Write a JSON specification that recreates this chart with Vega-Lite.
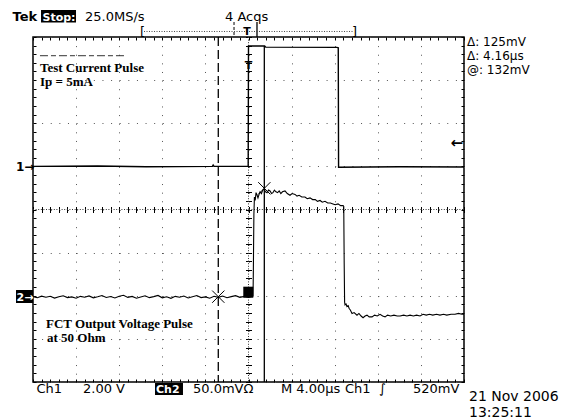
{
  "$schema": "https://vega.github.io/schema/vega-lite/v6.json",
  "width": 431,
  "height": 345,
  "autosize": {"type": "none"},
  "padding": {"left": 33, "top": 37, "right": 97, "bottom": 36},
  "background": "white",
  "config": {"view": {"stroke": "#000", "strokeWidth": 1.5}, "text": {"font": "DejaVu Sans"}},
  "datasets": {
    "one": [{"gx": 0, "gy": 0}],
    "text13": [
      {"gx": -3.794, "gy": 4.371, "label": "25.0MS/s"},
      {"gx": -0.545, "gy": 4.371, "label": "4 Acqs"},
      {"gx": -2.517, "gy": 4.023, "label": "["},
      {"gx": 2.401, "gy": 4.023, "label": "]"},
      {"gx": -4.919, "gy": -4.255, "label": "Ch1"},
      {"gx": -3.84, "gy": -4.255, "label": "2.00 V"},
      {"gx": -1.288, "gy": -4.255, "label": "50.0mVΩ"},
      {"gx": 0.754, "gy": -4.255, "label": "M 4.00µs"},
      {"gx": 2.239, "gy": -4.255, "label": "Ch1"},
      {"gx": 3.028, "gy": -4.255, "label": "∫"},
      {"gx": 3.817, "gy": -4.255, "label": "520mV"}
    ],
    "tek": [{"gx": -5.476, "gy": 4.371, "label": "Tek"}],
    "boxes": [
      {"gx": -4.814, "gx2": -4.002, "gy": 4.626, "gy2": 4.336},
      {"gx": -2.169, "gx2": -1.52, "gy": -4.023, "gy2": -4.301},
      {"gx": -5.394, "gx2": -4.999, "gy": -1.867, "gy2": -2.168},
      {"gx": -0.121, "gx2": 0.111, "gy": -1.79, "gy2": -2.046}
    ],
    "white": [
      {"gx": -4.78, "gy": 4.371, "label": "Stop:"},
      {"gx": -2.146, "gy": -4.255, "label": "Ch2"},
      {"gx": -5.383, "gy": -2.122, "label": "2→"}
    ],
    "text14": [
      {"gx": 5.116, "gy": -4.441, "label": "21 Nov 2006"},
      {"gx": 5.116, "gy": -4.8, "label": "13:25:11"}
    ],
    "readout": [
      {"gx": 5.07, "gy": 3.791, "label": "Δ: 125mV"},
      {"gx": 5.07, "gy": 3.467, "label": "Δ: 4.16µs"},
      {"gx": 5.07, "gy": 3.142, "label": "@: 132mV"}
    ],
    "serif": [
      {"gx": -4.838, "gy": 3.188, "label": "Test Current Pulse"},
      {"gx": -4.838, "gy": 2.864, "label": "Ip = 5mA"},
      {"gx": -4.698, "gy": -2.748, "label": "FCT Output Voltage Pulse"},
      {"gx": -4.675, "gy": -3.072, "label": "at 50 Ohm"}
    ],
    "marks12": [
      {"gx": -5.395, "gy": 0.904, "label": "1→"}
    ],
    "trigarrow": [
      {"gx": 4.98, "gy": 1.542, "label": "←"}
    ],
    "tmarks": [
      {"gx": -0.035, "gy": 4.046, "label": "T"},
      {"gx": 0, "gy": 3.258, "label": "T"}
    ],
    "solid": [
      {"gx": 0.367, "gy": 3.79, "gx2": 0.367, "gy2": -4},
      {"gx": 0.197, "gy": 4.348, "gx2": 0.197, "gy2": 4.0}
    ],
    "dashcursor": [{"gx": -0.701, "gy": 4, "gx2": -0.701, "gy2": -4}],
    "dashsmall": [{"gx": -0.336, "gy": 4.348, "gx2": -0.336, "gy2": 4.0}],
    "dotted": [{"gx": -2.424, "gy": 4.128, "gx2": 2.425, "gy2": 4.128}],
    "center": [
      {"gx": 0, "gy": 4, "gx2": 0, "gy2": -4},
      {"gx": -5, "gy": 0, "gx2": 5, "gy2": 0}
    ],
    "underline": [{"gx": -4.838, "gy": 3.566, "gx2": -2.865, "gy2": 3.566}],
    "xmarks": [{"gx": -0.701, "gy": -2.022}, {"gx": 0.367, "gy": 0.492}],
    "ch1": [
      {"t": -20, "v": 0.0},
      {"t": -14, "v": 0.02},
      {"t": -9.5, "v": -0.02},
      {"t": -3.35, "v": 0.0},
      {"t": -3.28, "v": 0.06},
      {"t": -3.2, "v": 0.0},
      {"t": -0.03, "v": 0.0},
      {"t": 0.0, "v": 5.58},
      {"t": 1.5, "v": 5.58},
      {"t": 1.6, "v": 5.53},
      {"t": 8.2, "v": 5.52},
      {"t": 8.33, "v": 5.5},
      {"t": 8.36, "v": -0.04},
      {"t": 14, "v": -0.02},
      {"t": 20, "v": -0.03}
    ],
    "ch2": [
      {"t": -20.0, "mv": 0.5}, {"t": -19.6, "mv": -0.8}, {"t": -19.2, "mv": 1.0}, {"t": -18.8, "mv": -0.3},
      {"t": -18.4, "mv": 0.9}, {"t": -18.0, "mv": -1.2}, {"t": -17.6, "mv": 0.4}, {"t": -17.2, "mv": 1.5},
      {"t": -16.8, "mv": -0.6}, {"t": -16.4, "mv": 0.2}, {"t": -16.0, "mv": -1.4}, {"t": -15.6, "mv": 0.8},
      {"t": -15.2, "mv": -0.2}, {"t": -14.8, "mv": 1.3}, {"t": -14.4, "mv": -0.9}, {"t": -14.0, "mv": 0.3},
      {"t": -13.6, "mv": 1.8}, {"t": -13.2, "mv": -0.5}, {"t": -12.8, "mv": 0.6}, {"t": -12.4, "mv": -1.1},
      {"t": -12.0, "mv": 0.9}, {"t": -11.6, "mv": 2.0}, {"t": -11.2, "mv": -0.4}, {"t": -10.8, "mv": 0.7},
      {"t": -10.4, "mv": -1.3}, {"t": -10.0, "mv": 0.1}, {"t": -9.6, "mv": 1.4}, {"t": -9.2, "mv": -0.7},
      {"t": -8.8, "mv": 0.5}, {"t": -8.4, "mv": 1.9}, {"t": -8.0, "mv": -0.9}, {"t": -7.6, "mv": 0.3},
      {"t": -7.2, "mv": -1.5}, {"t": -6.8, "mv": 0.8}, {"t": -6.4, "mv": -0.2}, {"t": -6.0, "mv": 1.2},
      {"t": -5.6, "mv": -1.0}, {"t": -5.2, "mv": 0.4}, {"t": -4.8, "mv": 1.7}, {"t": -4.4, "mv": -0.6},
      {"t": -4.0, "mv": 0.2}, {"t": -3.6, "mv": -1.3}, {"t": -3.2, "mv": 0.9}, {"t": -2.8, "mv": -0.4},
      {"t": -2.4, "mv": 1.1}, {"t": -2.0, "mv": -0.8}, {"t": -1.6, "mv": 0.5}, {"t": -1.2, "mv": 1.6},
      {"t": -0.8, "mv": -0.3}, {"t": -0.4, "mv": 0.8}, {"t": 0.0, "mv": -0.5}, {"t": 0.3, "mv": 0.6},
      {"t": 0.42, "mv": 1.0}, {"t": 0.45, "mv": 30}, {"t": 0.5, "mv": 95}, {"t": 0.55, "mv": 116},
      {"t": 0.62, "mv": 112}, {"t": 0.7, "mv": 121}, {"t": 0.8, "mv": 118}, {"t": 0.88, "mv": 115},
      {"t": 0.98, "mv": 119}, {"t": 1.07, "mv": 122}, {"t": 1.2, "mv": 120}, {"t": 1.32, "mv": 124},
      {"t": 1.44, "mv": 125}, {"t": 1.58, "mv": 122}, {"t": 1.72, "mv": 121}, {"t": 1.86, "mv": 124},
      {"t": 2.0, "mv": 123}, {"t": 2.14, "mv": 120}, {"t": 2.27, "mv": 121}, {"t": 2.4, "mv": 124},
      {"t": 2.55, "mv": 122}, {"t": 2.7, "mv": 121}, {"t": 2.85, "mv": 123}, {"t": 3.0, "mv": 120},
      {"t": 3.15, "mv": 122}, {"t": 3.39, "mv": 123}, {"t": 3.6, "mv": 120}, {"t": 3.85, "mv": 118},
      {"t": 4.05, "mv": 120}, {"t": 4.32, "mv": 119}, {"t": 4.5, "mv": 117}, {"t": 4.7, "mv": 118},
      {"t": 4.95, "mv": 116}, {"t": 5.24, "mv": 116}, {"t": 5.45, "mv": 114}, {"t": 5.71, "mv": 115},
      {"t": 5.95, "mv": 113}, {"t": 6.2, "mv": 113}, {"t": 6.4, "mv": 111}, {"t": 6.64, "mv": 112},
      {"t": 6.85, "mv": 110}, {"t": 7.1, "mv": 111}, {"t": 7.35, "mv": 109}, {"t": 7.6, "mv": 109},
      {"t": 7.84, "mv": 108}, {"t": 8.05, "mv": 107}, {"t": 8.31, "mv": 108}, {"t": 8.55, "mv": 106},
      {"t": 8.78, "mv": 106}, {"t": 8.84, "mv": 105}, {"t": 8.88, "mv": 40}, {"t": 8.92, "mv": -6},
      {"t": 8.96, "mv": -9}, {"t": 9.05, "mv": -8}, {"t": 9.14, "mv": -11}, {"t": 9.25, "mv": -10},
      {"t": 9.33, "mv": -13}, {"t": 9.45, "mv": -15}, {"t": 9.61, "mv": -19}, {"t": 9.8, "mv": -18},
      {"t": 10.07, "mv": -21}, {"t": 10.25, "mv": -19}, {"t": 10.45, "mv": -22}, {"t": 10.63, "mv": -24},
      {"t": 10.82, "mv": -22}, {"t": 11.0, "mv": -21}, {"t": 11.2, "mv": -23}, {"t": 11.47, "mv": -23},
      {"t": 11.7, "mv": -21}, {"t": 11.95, "mv": -22}, {"t": 12.21, "mv": -20}, {"t": 12.45, "mv": -22},
      {"t": 12.68, "mv": -23}, {"t": 12.9, "mv": -21}, {"t": 13.2, "mv": -22}, {"t": 13.5, "mv": -21},
      {"t": 13.8, "mv": -22}, {"t": 14.07, "mv": -22}, {"t": 14.4, "mv": -21}, {"t": 14.7, "mv": -22},
      {"t": 15.0, "mv": -21}, {"t": 15.3, "mv": -22}, {"t": 15.6, "mv": -21}, {"t": 15.92, "mv": -22},
      {"t": 16.2, "mv": -20}, {"t": 16.5, "mv": -21}, {"t": 16.8, "mv": -20}, {"t": 17.1, "mv": -21},
      {"t": 17.45, "mv": -20}, {"t": 17.77, "mv": -21}, {"t": 18.1, "mv": -20}, {"t": 18.4, "mv": -21},
      {"t": 18.8, "mv": -20}, {"t": 19.16, "mv": -20}, {"t": 19.5, "mv": -19}, {"t": 19.8, "mv": -20},
      {"t": 20.0, "mv": -20}
    ]
  },
  "resolve": {"scale": {"x": "independent", "y": "independent"}, "axis": {"x": "independent", "y": "independent"}},
  "layer": [
    {
      "resolve": {"axis": {"x": "independent", "y": "independent"}},
      "layer": [
        {
          "data": {"name": "one"},
          "mark": {"type": "point", "opacity": 0},
          "encoding": {
            "x": {"field": "gx", "type": "quantitative", "scale": {"domain": [-5, 5], "nice": false, "zero": false},
              "axis": {"orient": "bottom", "grid": true, "tickCount": 10, "ticks": false, "labels": false, "domain": false, "title": null, "gridDash": [1, 7.62], "gridColor": "#555", "gridWidth": 1}},
            "y": {"field": "gy", "type": "quantitative", "scale": {"domain": [-4, 4], "nice": false, "zero": false},
              "axis": {"orient": "left", "grid": true, "tickCount": 8, "ticks": false, "labels": false, "domain": false, "title": null, "gridDash": [1, 7.62], "gridColor": "#555", "gridWidth": 1}}
          }
        },
        {
          "data": {"name": "one"},
          "mark": {"type": "point", "opacity": 0},
          "encoding": {
            "x": {"field": "gx", "type": "quantitative", "scale": {"domain": [-5, 5], "nice": false, "zero": false},
              "axis": {"orient": "bottom", "grid": false, "tickCount": 50, "ticks": true, "tickSize": -3, "tickColor": "#000", "labels": false, "domain": false, "title": null}},
            "y": {"field": "gy", "type": "quantitative", "scale": {"domain": [-4, 4], "nice": false, "zero": false},
              "axis": {"orient": "left", "grid": false, "tickCount": 40, "ticks": true, "tickSize": -3, "tickColor": "#000", "labels": false, "domain": false, "title": null}}
          }
        },
        {
          "data": {"name": "one"},
          "mark": {"type": "point", "opacity": 0},
          "encoding": {
            "x": {"field": "gx", "type": "quantitative", "scale": {"domain": [-5, 5], "nice": false, "zero": false},
              "axis": {"orient": "top", "grid": false, "tickCount": 50, "ticks": true, "tickSize": -3, "tickColor": "#000", "labels": false, "domain": false, "title": null}},
            "y": {"field": "gy", "type": "quantitative", "scale": {"domain": [-4, 4], "nice": false, "zero": false},
              "axis": {"orient": "right", "grid": false, "tickCount": 40, "ticks": true, "tickSize": -3, "tickColor": "#000", "labels": false, "domain": false, "title": null}}
          }
        },
        {
          "data": {"name": "one"},
          "mark": {"type": "point", "opacity": 0},
          "encoding": {
            "x": {"field": "gx", "type": "quantitative", "scale": {"domain": [-5, 5], "nice": false, "zero": false},
              "axis": {"orient": "bottom", "offset": -175.5, "grid": false, "tickCount": 50, "ticks": true, "tickSize": 6, "tickColor": "#000", "labels": false, "domain": false, "title": null}},
            "y": {"field": "gy", "type": "quantitative", "scale": {"domain": [-4, 4], "nice": false, "zero": false},
              "axis": {"orient": "left", "offset": -218.5, "grid": false, "tickCount": 40, "ticks": true, "tickSize": 6, "tickColor": "#000", "labels": false, "domain": false, "title": null}}
          }
        },
        {
          "data": {"name": "center"},
          "mark": {"type": "rule", "stroke": "#333", "strokeWidth": 1, "strokeDash": [1, 1.6]},
          "encoding": {
            "x": {"field": "gx", "type": "quantitative", "scale": {"domain": [-5, 5], "nice": false, "zero": false}, "axis": null},
            "x2": {"field": "gx2"},
            "y": {"field": "gy", "type": "quantitative", "scale": {"domain": [-4, 4], "nice": false, "zero": false}, "axis": null},
            "y2": {"field": "gy2"}
          }
        },
        {
          "data": {"name": "dashcursor"},
          "mark": {"type": "rule", "stroke": "#000", "strokeWidth": 1.3, "strokeDash": [9, 4]},
          "encoding": {
            "x": {"field": "gx", "type": "quantitative", "scale": {"domain": [-5, 5], "nice": false, "zero": false}, "axis": null},
            "x2": {"field": "gx2"},
            "y": {"field": "gy", "type": "quantitative", "scale": {"domain": [-4, 4], "nice": false, "zero": false}, "axis": null},
            "y2": {"field": "gy2"}
          }
        },
        {
          "data": {"name": "dashsmall"},
          "mark": {"type": "rule", "stroke": "#000", "strokeWidth": 1, "strokeDash": [3, 2]},
          "encoding": {
            "x": {"field": "gx", "type": "quantitative", "scale": {"domain": [-5, 5], "nice": false, "zero": false}, "axis": null},
            "x2": {"field": "gx2"},
            "y": {"field": "gy", "type": "quantitative", "scale": {"domain": [-4, 4], "nice": false, "zero": false}, "axis": null},
            "y2": {"field": "gy2"}
          }
        },
        {
          "data": {"name": "solid"},
          "mark": {"type": "rule", "stroke": "#000", "strokeWidth": 1.3},
          "encoding": {
            "x": {"field": "gx", "type": "quantitative", "scale": {"domain": [-5, 5], "nice": false, "zero": false}, "axis": null},
            "x2": {"field": "gx2"},
            "y": {"field": "gy", "type": "quantitative", "scale": {"domain": [-4, 4], "nice": false, "zero": false}, "axis": null},
            "y2": {"field": "gy2"}
          }
        },
        {
          "data": {"name": "dotted"},
          "mark": {"type": "rule", "stroke": "#444", "strokeWidth": 1, "strokeDash": [1, 1.5]},
          "encoding": {
            "x": {"field": "gx", "type": "quantitative", "scale": {"domain": [-5, 5], "nice": false, "zero": false}, "axis": null},
            "x2": {"field": "gx2"},
            "y": {"field": "gy", "type": "quantitative", "scale": {"domain": [-4, 4], "nice": false, "zero": false}, "axis": null},
            "y2": {"field": "gy2"}
          }
        },
        {
          "data": {"name": "underline"},
          "mark": {"type": "rule", "stroke": "#333", "strokeWidth": 1, "strokeDash": [8, 3, 5, 3]},
          "encoding": {
            "x": {"field": "gx", "type": "quantitative", "scale": {"domain": [-5, 5], "nice": false, "zero": false}, "axis": null},
            "x2": {"field": "gx2"},
            "y": {"field": "gy", "type": "quantitative", "scale": {"domain": [-4, 4], "nice": false, "zero": false}, "axis": null},
            "y2": {"field": "gy2"}
          }
        },
        {
          "data": {"name": "boxes"},
          "mark": {"type": "rect", "fill": "#000"},
          "encoding": {
            "x": {"field": "gx", "type": "quantitative", "scale": {"domain": [-5, 5], "nice": false, "zero": false}, "axis": null},
            "x2": {"field": "gx2"},
            "y": {"field": "gy", "type": "quantitative", "scale": {"domain": [-4, 4], "nice": false, "zero": false}, "axis": null},
            "y2": {"field": "gy2"}
          }
        },
        {
          "data": {"name": "xmarks"},
          "mark": {"type": "point", "shape": "M-1,-1L1,1M-1,1L1,-1", "filled": false, "stroke": "#000", "strokeWidth": 1, "size": 150, "opacity": 1},
          "encoding": {
            "x": {"field": "gx", "type": "quantitative", "scale": {"domain": [-5, 5], "nice": false, "zero": false}, "axis": null},
            "y": {"field": "gy", "type": "quantitative", "scale": {"domain": [-4, 4], "nice": false, "zero": false}, "axis": null}
          }
        },
        {
          "data": {"name": "text13"},
          "mark": {"type": "text", "font": "DejaVu Sans", "fontSize": 13, "align": "left", "baseline": "alphabetic", "fill": "#000"},
          "encoding": {
            "x": {"field": "gx", "type": "quantitative", "scale": {"domain": [-5, 5], "nice": false, "zero": false}, "axis": null},
            "y": {"field": "gy", "type": "quantitative", "scale": {"domain": [-4, 4], "nice": false, "zero": false}, "axis": null},
            "text": {"field": "label"}
          }
        },
        {
          "data": {"name": "tek"},
          "mark": {"type": "text", "font": "DejaVu Sans", "fontWeight": "bold", "fontSize": 13, "align": "left", "baseline": "alphabetic", "fill": "#000"},
          "encoding": {
            "x": {"field": "gx", "type": "quantitative", "scale": {"domain": [-5, 5], "nice": false, "zero": false}, "axis": null},
            "y": {"field": "gy", "type": "quantitative", "scale": {"domain": [-4, 4], "nice": false, "zero": false}, "axis": null},
            "text": {"field": "label"}
          }
        },
        {
          "data": {"name": "white"},
          "mark": {"type": "text", "font": "DejaVu Sans", "fontWeight": "bold", "fontSize": 11, "align": "left", "baseline": "alphabetic", "fill": "#fff"},
          "encoding": {
            "x": {"field": "gx", "type": "quantitative", "scale": {"domain": [-5, 5], "nice": false, "zero": false}, "axis": null},
            "y": {"field": "gy", "type": "quantitative", "scale": {"domain": [-4, 4], "nice": false, "zero": false}, "axis": null},
            "text": {"field": "label"}
          }
        },
        {
          "data": {"name": "text14"},
          "mark": {"type": "text", "font": "DejaVu Sans", "fontSize": 14, "align": "left", "baseline": "alphabetic", "fill": "#000"},
          "encoding": {
            "x": {"field": "gx", "type": "quantitative", "scale": {"domain": [-5, 5], "nice": false, "zero": false}, "axis": null},
            "y": {"field": "gy", "type": "quantitative", "scale": {"domain": [-4, 4], "nice": false, "zero": false}, "axis": null},
            "text": {"field": "label"}
          }
        },
        {
          "data": {"name": "readout"},
          "mark": {"type": "text", "font": "DejaVu Sans", "fontSize": 12, "align": "left", "baseline": "alphabetic", "fill": "#000"},
          "encoding": {
            "x": {"field": "gx", "type": "quantitative", "scale": {"domain": [-5, 5], "nice": false, "zero": false}, "axis": null},
            "y": {"field": "gy", "type": "quantitative", "scale": {"domain": [-4, 4], "nice": false, "zero": false}, "axis": null},
            "text": {"field": "label"}
          }
        },
        {
          "data": {"name": "serif"},
          "mark": {"type": "text", "font": "Liberation Serif", "fontWeight": "bold", "fontSize": 13, "align": "left", "baseline": "alphabetic", "fill": "#000"},
          "encoding": {
            "x": {"field": "gx", "type": "quantitative", "scale": {"domain": [-5, 5], "nice": false, "zero": false}, "axis": null},
            "y": {"field": "gy", "type": "quantitative", "scale": {"domain": [-4, 4], "nice": false, "zero": false}, "axis": null},
            "text": {"field": "label"}
          }
        },
        {
          "data": {"name": "marks12"},
          "mark": {"type": "text", "font": "DejaVu Sans", "fontWeight": "bold", "fontSize": 12, "align": "left", "baseline": "alphabetic", "fill": "#000"},
          "encoding": {
            "x": {"field": "gx", "type": "quantitative", "scale": {"domain": [-5, 5], "nice": false, "zero": false}, "axis": null},
            "y": {"field": "gy", "type": "quantitative", "scale": {"domain": [-4, 4], "nice": false, "zero": false}, "axis": null},
            "text": {"field": "label"}
          }
        },
        {
          "data": {"name": "trigarrow"},
          "mark": {"type": "text", "font": "DejaVu Sans", "fontWeight": "bold", "fontSize": 15, "align": "right", "baseline": "middle", "fill": "#000"},
          "encoding": {
            "x": {"field": "gx", "type": "quantitative", "scale": {"domain": [-5, 5], "nice": false, "zero": false}, "axis": null},
            "y": {"field": "gy", "type": "quantitative", "scale": {"domain": [-4, 4], "nice": false, "zero": false}, "axis": null},
            "text": {"field": "label"}
          }
        },
        {
          "data": {"name": "tmarks"},
          "mark": {"type": "text", "font": "DejaVu Sans", "fontWeight": "bold", "fontSize": 11, "align": "center", "baseline": "alphabetic", "fill": "#000"},
          "encoding": {
            "x": {"field": "gx", "type": "quantitative", "scale": {"domain": [-5, 5], "nice": false, "zero": false}, "axis": null},
            "y": {"field": "gy", "type": "quantitative", "scale": {"domain": [-4, 4], "nice": false, "zero": false}, "axis": null},
            "text": {"field": "label"}
          }
        }
      ]
    },
    {
      "data": {"name": "ch1"},
      "mark": {"type": "line", "stroke": "#000", "strokeWidth": 1.4},
      "encoding": {
        "x": {"field": "t", "type": "quantitative", "scale": {"domain": [-20, 20], "nice": false, "zero": false}, "axis": null},
        "y": {"field": "v", "type": "quantitative", "scale": {"domain": [-10, 6], "nice": false, "zero": false}, "axis": null}
      }
    },
    {
      "data": {"name": "ch2"},
      "mark": {"type": "line", "stroke": "#000", "strokeWidth": 1.1},
      "encoding": {
        "x": {"field": "t", "type": "quantitative", "scale": {"domain": [-20, 20], "nice": false, "zero": false}, "axis": null},
        "y": {"field": "mv", "type": "quantitative", "scale": {"domain": [-98.5, 301.5], "nice": false, "zero": false}, "axis": null}
      }
    }
  ]
}
